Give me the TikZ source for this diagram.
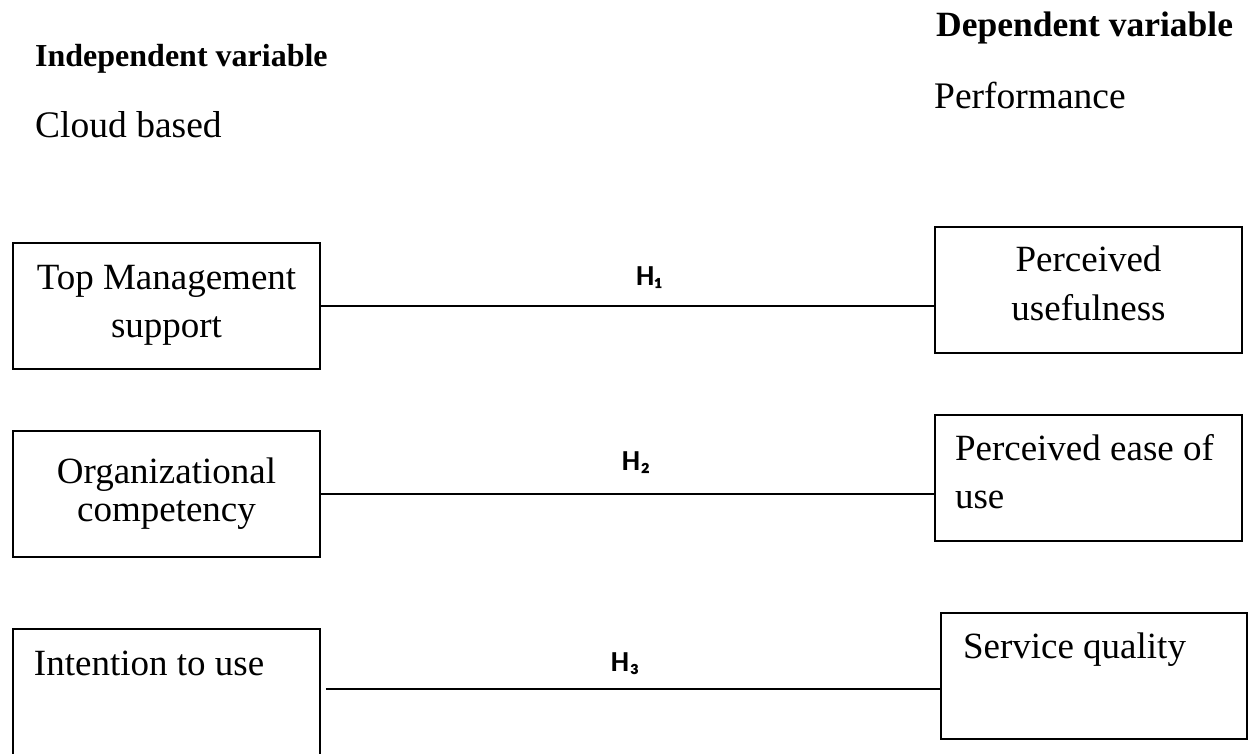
\documentclass[tikz,border=0pt]{standalone}
\usepackage{fontspec}
\setmainfont{Liberation Serif}
\newfontfamily\hypfont{Carlito}
\usetikzlibrary{positioning}

\begin{document}
\begin{tikzpicture}[x=1pt, y=-1pt,
    varbox/.style={draw, line width=1.5pt, minimum width=307pt, minimum height=126pt, inner sep=0pt, text width=307pt, align=flush center, text height=45pt, text depth=81pt, font=\fontsize{37}{48}\selectfont},
    leftbox/.style={varbox, inner xsep=21pt, text width=265pt, align=flush left},
    heading/.style={anchor=base west, inner sep=0pt, font=\fontsize{32}{38}\selectfont\bfseries},
    subhead/.style={anchor=base west, inner sep=0pt, font=\fontsize{37.5}{44}\selectfont},
    hyp/.style={anchor=base, inner sep=0pt, font=\fontsize{29}{34}\selectfont\hypfont\bfseries},
    link/.style={line width=1.5pt}
]
\useasboundingbox (0,0) rectangle (1248,754);

% column headings
\node[heading] (indep) at (35, 67) {Independent variable};
\node[subhead] (cloud) at (35, 138) {Cloud based};
\node[heading, font=\fontsize{35.5}{42}\selectfont\bfseries] (dep) at (936, 37) {Dependent variable};
\node[subhead] (perf) at (934, 109) {Performance};

% independent variables
\node[varbox, text height=46pt, text depth=80pt] (tms) at (166.5, 306) {Top Management\\support};
\node[varbox, text height=52pt, text depth=74pt, font=\fontsize{37}{38}\selectfont] (orgc) at (166.5, 494) {Organizational\\competency};
\node[leftbox, text height=46pt, text depth=80pt] (itu) at (166.5, 692) {Intention to use};

% dependent variables
\node[varbox, font=\fontsize{37}{49}\selectfont] (pu) at (1088.5, 290) {Perceived\\usefulness};
\node[leftbox, inner xsep=20pt, text width=267pt] (peou) at (1088.5, 478) {Perceived ease of\\use};
\node[leftbox, minimum width=306pt, text width=262pt, inner xsep=22pt] (sq) at (1094, 676) {Service quality};

% hypotheses
\draw[link] (tms.east) -- (tms.east -| pu.west);
\draw[link] (orgc.east) -- (orgc.east -| peou.west);
\draw[link] ([xshift=5pt, yshift=3pt]itu.east) -- ([yshift=3pt]itu.east -| sq.west);

\node[hyp] (h1) at (649, 286) {H₁};
\node[hyp] (h2) at (636, 470) {H₂};
\node[hyp] (h3) at (625, 671) {H₃};
\end{tikzpicture}
\end{document}
